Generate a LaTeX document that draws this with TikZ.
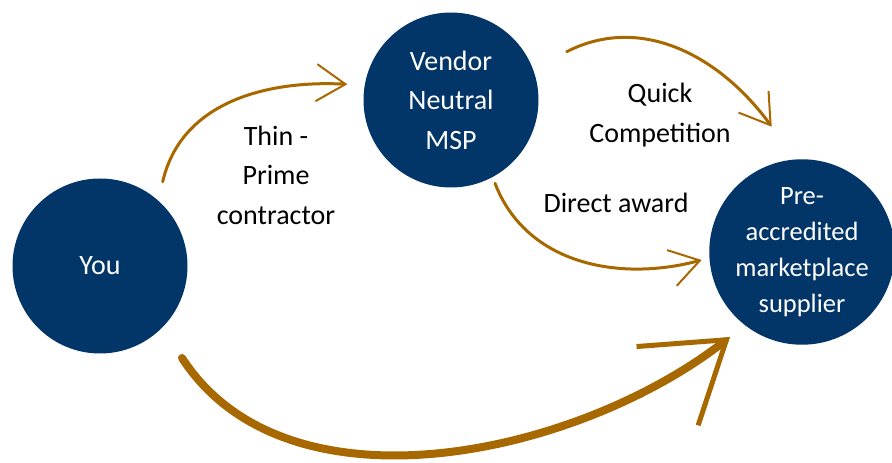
\documentclass[tikz,border=0pt]{standalone}
\usepackage{fontspec}
\setmainfont{Carlito}
\usetikzlibrary{arrows.meta,calc}
\definecolor{circleblue}{RGB}{3,54,104}
\definecolor{arrowbrown}{RGB}{168,104,0}

\begin{document}
\begin{tikzpicture}[x=1pt,y=1pt,
  bubble/.style={circle,fill=circleblue,text=white,minimum size=175pt,inner sep=0pt,
    align=center,font=\fontsize{28}{39.5}\selectfont},
  words/.style={align=center,font=\fontsize{28}{39.5}\selectfont},
  thin arrow/.style={arrowbrown,line width=3pt,line cap=round,
    -{Straight Barb[length=29pt,width=37pt,line width=2pt]}},
  thick arrow/.style={arrowbrown,line width=8pt,line cap=round,
    -{Straight Barb[length=75pt,width=100pt,line width=5pt]}}]
\useasboundingbox (0,0) rectangle (892,463);
% circles
\node[bubble] (you) at (100,197) {You};
\node[bubble] (msp) at (451,363) {Vendor\\Neutral\\MSP};
\node[bubble,font=\fontsize{26.5}{36}\selectfont] (supplier) at (802,211)
  {Pre-\\accredited\\marketplace\\supplier};
% labels
\node[words] (thin) at (276,288) {Thin -\\Prime\\contractor};
\node[words] (quick) at (660,348) {Quick\\Competition};
\node[words] (direct) at (616,260) {Direct award};
% arrows
\draw[thin arrow] ($(you)+(62.7,84.3)$) to[out=77,in=177] ($(msp)+(-103.7,15.7)$);
\draw[thin arrow] ($(msp)+(115.7,48.3)$) to[out=27,in=126] ($(supplier)+(-30.3,125.3)$);
\draw[thin arrow] ($(msp)+(44,-83.3)$) to[out=-69,in=195] ($(supplier)+(-100.3,-8)$);
\draw[thick arrow] ($(you)+(82,-92)$) to[out=-57,in=218,looseness=0.9] ($(supplier)+(-72,-85)$);
\end{tikzpicture}
\end{document}
